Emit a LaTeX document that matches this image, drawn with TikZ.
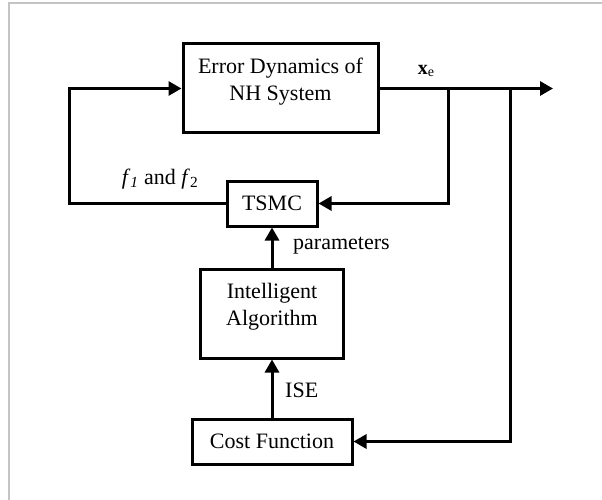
\documentclass[tikz,border=0pt]{standalone}
\usepackage{fontspec}
\setmainfont{Liberation Serif}
\usetikzlibrary{arrows.meta}
\begin{document}
\begin{tikzpicture}[x=1pt,y=-1pt,
  blk/.style={draw=black, line width=3pt, inner sep=0pt},
  lbl/.style={inner sep=0pt, font=\fontsize{22}{27}\selectfont, align=center},
  wire/.style={draw=black, line width=3pt},
  arr/.style={wire, -{Triangle[length=13pt,width=14pt]}},
  frame/.style={draw={rgb,255:red,196;green,196;blue,196}, line width=1.5pt}]
\useasboundingbox (0,0) rectangle (602,500);
\fill[white] (0,0) rectangle (602,500);
\draw[frame] (9,500) -- (9,3) -- (602,3);
% blocks
\node[blk, minimum width=195pt, minimum height=89pt] (err) at (280.5,88.5) {};
\node[lbl] (errtxt) at (280.5,81.5) {Error Dynamics of\\NH System};
\node[blk, minimum width=90pt, minimum height=45pt, font=\fontsize{22}{27}\selectfont] (tsmc) at (272,203.5) {TSMC};
\node[blk, minimum width=143pt, minimum height=89pt] (ia) at (272,313.5) {};
\node[lbl] (iatxt) at (272,306.5) {Intelligent\\Algorithm};
\node[blk, minimum width=160pt, minimum height=45pt, font=\fontsize{22}{27}\selectfont] (cost) at (272,441.5) {Cost Function};
% coordinates
\coordinate (out) at (553,88.5);
\coordinate (b1) at (448,88.5);
\coordinate (b2) at (510,88.5);
\coordinate (lft) at (69,88.5);
% connectors
\draw[arr] (err.east) -- (out);
\draw[arr] (b1) |- (tsmc.east);
\draw[arr] (b2) |- (cost.east);
\draw[arr] (tsmc.west) -| (lft) -- (err.west);
\draw[arr] (ia.north) -- (tsmc.south);
\draw[arr] (cost.north) -- (ia.south);
% labels
\node[inner sep=0pt, font=\fontsize{20}{22}\selectfont] (xe) at (426,71) {\textbf{x}\raisebox{-0.2ex}{\fontsize{14}{15}\selectfont e}};
\node[lbl] (ff) at (160,179) {\textit{f}\textsubscript{\textit{1}} and \textit{f}\textsubscript{2}};
\node[lbl, anchor=west] (par) at (293,246) {parameters};
\node[lbl, anchor=west] (ise) at (285,390) {ISE};
\end{tikzpicture}
\end{document}
